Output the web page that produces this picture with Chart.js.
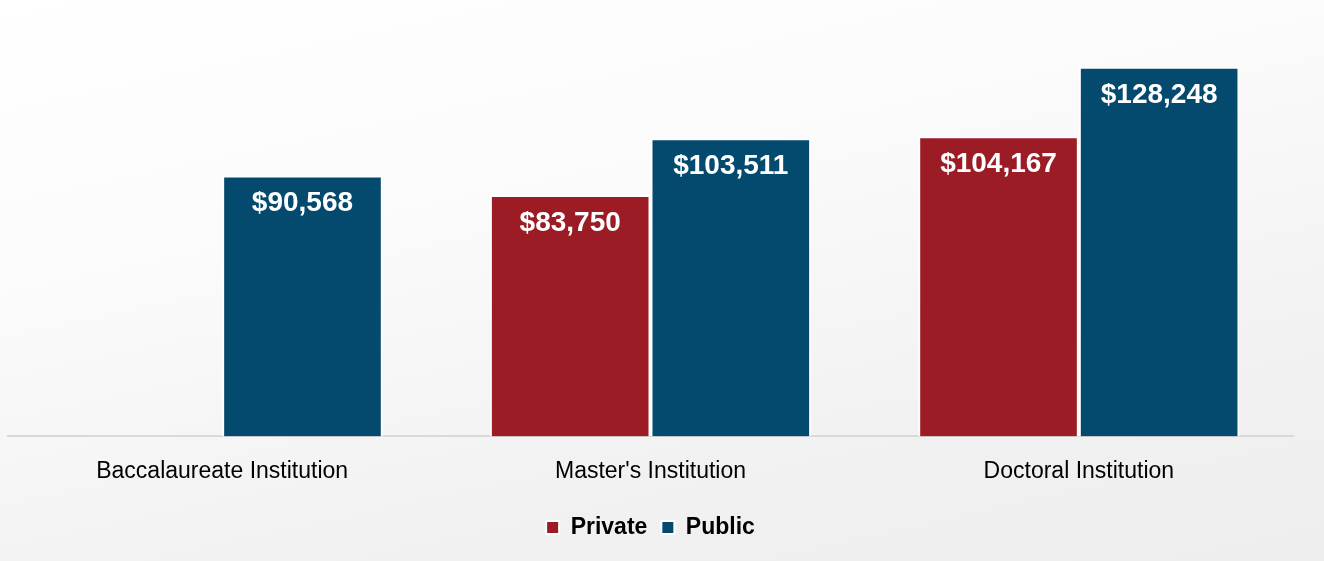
<!DOCTYPE html>
<html>
<head>
<meta charset="utf-8">
<script src="https://cdn.jsdelivr.net/npm/chart.js@4/dist/chart.umd.min.js"></script>
<style>
  html, body { margin: 0; padding: 0; }
  body { width: 1324px; height: 561px; overflow: hidden;
    background: linear-gradient(168deg, #ffffff 0%, #fbfbfb 35%, #f1f1f1 75%, #eeeeee 100%); }
  #wrap { position: relative; width: 1324px; height: 561px; }
</style>
</head>
<body>
<div id="wrap"><canvas id="c" width="1324" height="561"></canvas></div>
<script>
const categories = ["Baccalaureate Institution", "Master's Institution", "Doctoral Institution"];
const seriesNames = ["Private", "Public"];
const privateValues = [null, 83750, 104167];
const publicValues = [90568, 103511, 128248];
const seriesColors = ["#9B1C24", "#034A6E"];

const fmt = v => "$" + v.toLocaleString("en-US");

const labelPlugin = {
  id: "barLabels",
  afterDatasetsDraw(chart) {
    const ctx = chart.ctx;
    ctx.save();
    ctx.fillStyle = "#ffffff";
    ctx.font = "bold 28px 'Liberation Sans', Arial, sans-serif";
    ctx.textAlign = "center";
    ctx.textBaseline = "middle";
    chart.data.datasets.forEach((ds, i) => {
      const meta = chart.getDatasetMeta(i);
      meta.data.forEach((bar, j) => {
        const v = ds.data[j];
        if (v == null) return;
        ctx.fillText(fmt(v), bar.x, bar.y + 28);
      });
    });
    ctx.restore();
  }
};

new Chart(document.getElementById("c"), {
  type: "bar",
  data: {
    labels: categories,
    datasets: [
      { label: seriesNames[0], data: privateValues, backgroundColor: seriesColors[0],
        borderColor: "#ffffff", borderWidth: 2, borderSkipped: "bottom" },
      { label: seriesNames[1], data: publicValues, backgroundColor: seriesColors[1],
        borderColor: "#ffffff", borderWidth: 2, borderSkipped: "bottom" }
    ]
  },
  options: {
    responsive: false,
    animation: false,
    layout: { padding: { top: 33, left: 8, right: 31, bottom: 12 } },
    datasets: { bar: { categoryPercentage: 0.75, barPercentage: 1.0 } },
    scales: {
      x: {
        afterFit(scale) { scale.height += 4; },
        grid: { display: false },
        border: { display: true, color: "#d9d9d9", width: 2 },
        ticks: { color: "#000000", padding: 13,
          font: { family: "'Liberation Sans', Arial, sans-serif", size: 23 } }
      },
      y: { display: false, min: 0, max: 140000 }
    },
    plugins: {
      legend: {
        position: "bottom",
        labels: { color: "#000000", boxWidth: 13, boxHeight: 13, padding: 14,
          font: { family: "'Liberation Sans', Arial, sans-serif", size: 23, weight: "bold" } }
      },
      tooltip: { enabled: false }
    }
  },
  plugins: [labelPlugin]
});
</script>
</body>
</html>
